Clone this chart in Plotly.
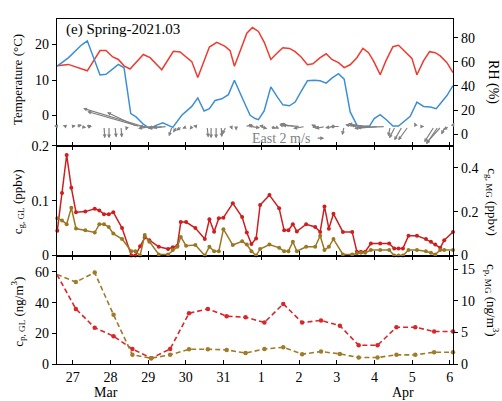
import plotly.graph_objects as go

# ---------------- data (time as day-of-March, Apr 1 = 32) ----------------
t_temp = [26.591, 26.883, 27.387, 27.724, 27.883, 28.061, 28.210, 28.361, 28.520, 28.698,
          28.873, 29.051, 29.361, 29.669, 29.847, 30.157, 30.316, 30.624, 30.821, 31.041,
          31.173, 31.288, 31.617, 31.765, 31.924, 32.076, 32.253, 32.428, 32.572, 32.747,
          32.898, 33.057, 33.224, 33.368, 33.561, 33.721, 33.872, 34.047, 34.198, 34.357,
          34.535, 34.694, 34.843, 34.975, 35.153, 35.304, 35.490, 35.639, 35.798, 35.994,
          36.127, 36.302, 36.461, 36.613, 36.745, 36.923, 37.082]
temperature = [14.0, 14.4, 12.6, 18.3, 18.3, 16.5, 15.8, 14.0, 13.1, 15.2,
               17.2, 16.3, 12.9, 18.1, 17.9, 15.2, 10.7, 19.3, 20.6, 19.5,
               18.3, 13.9, 23.2, 24.8, 23.7, 20.7, 15.8, 17.7, 19.1, 18.9,
               18.0, 16.5, 14.3, 14.6, 16.3, 17.4, 15.8, 14.9, 13.5, 14.3,
               16.3, 18.9, 17.7, 15.4, 11.5, 15.4, 19.4, 19.8, 18.1, 16.1,
               11.5, 15.4, 18.0, 17.7, 16.8, 14.9, 12.1]

t_rh = [26.591, 26.883, 27.239, 27.387, 27.724, 27.883, 28.210, 28.361, 28.539, 28.679,
        28.873, 29.032, 29.229, 29.388, 29.653, 29.892, 30.157, 30.316, 30.484, 30.624,
        30.775, 30.953, 31.128, 31.288, 31.526, 31.704, 31.837, 31.924, 32.076, 32.253,
        32.428, 32.572, 32.747, 32.898, 33.057, 33.224, 33.402, 33.561, 33.721, 33.872,
        34.047, 34.198, 34.357, 34.535, 34.710, 34.869, 34.994, 35.153, 35.331, 35.490,
        35.639, 35.771, 35.949, 36.127, 36.302, 36.480, 36.639, 36.745, 36.923, 37.082]
rh = [56.6, 63.4, 74.3, 77.6, 49.2, 49.8, 58.0, 55.2, 17.0, 14.3,
      8.2, 4.7, 7.4, 9.3, 5.5, 15.6, 23.0, 30.1, 19.2, 21.1,
      27.9, 29.3, 32.8, 44.8, 27.9, 15.6, 12.9, 12.0, 19.2, 39.3,
      30.7, 24.3, 23.5, 26.6, 35.6, 44.3, 44.8, 44.3, 42.4, 46.5,
      50.3, 45.7, 18.4, 7.4, 6.1, 6.6, 12.9, 16.1, 11.5, 6.6,
      6.6, 10.2, 14.8, 26.6, 23.0, 22.5, 21.1, 25.2, 32.0, 40.2]

wind_day = [26.610, 26.822, 26.955, 27.087, 27.220, 27.353, 27.459, 27.830, 27.963, 28.122,
            28.281, 28.441, 28.706, 28.786, 28.865, 28.971, 29.104, 29.263, 29.396, 29.502,
            29.635, 29.767, 29.900, 30.033, 30.165, 30.298, 30.431, 30.563, 30.669, 30.802,
            30.935, 31.067, 31.200, 31.333, 31.571, 31.704, 31.837, 31.969, 32.102, 32.235,
            32.367, 32.633, 32.765, 32.898, 33.031, 33.163, 33.429, 33.561, 33.694, 33.827,
            33.959, 34.092, 34.198, 34.437, 34.623, 34.782, 34.941, 35.100, 35.286, 35.419,
            35.551, 35.737, 35.896, 36.108, 36.215, 36.586, 36.692, 36.772, 36.878, 36.984,
            37.064]
wind_u = [-1.0, -0.8, 1.2, 1.5, 1.3, 1.5, -0.8, 0.2, 0.0, 0.3,
          0.2, -0.3, -7.5, -13.2, -15.0, -2.0, -3.5, -2.5, -2.5, -4.7,
          -0.8, -1.0, -1.5, -1.2, -0.6, -1.0, -0.5, 0.3, 0.0, 0.0,
          0.2, -1.0, 0.3, 0.0, 2.0, 2.5, -1.8, 1.8, -1.5, 1.5,
          1.0, -1.5, -2.5, -3.5, -4.5, -3.0, -1.0, -2.0, -2.5, 1.5,
          -2.5, -2.5, -0.5, -2.0, -3.0, -4.0, -5.0, -6.0, -7.0, -0.5,
          -1.5, -2.0, -2.5, -0.5, 1.0, -2.5, -3.0, -3.8, -1.0, -1.5,
          0.5]
wind_v = [0.2, 0.3, 0.2, 0.4, -0.3, 0.0, 0.4, -3.0, -3.0, -2.8,
          -2.8, -1.0, 3.6, 3.8, 4.6, 0.0, -0.5, -0.3, -0.3, -0.5,
          -2.5, -1.5, -1.0, -0.5, -0.8, 0.2, -0.5, -2.8, -3.0, -3.0,
          -2.7, -2.0, -0.8, -1.0, 0.4, -0.3, 0.3, -0.6, 0.2, -0.5,
          -0.6, 0.5, 0.8, 0.6, 0.3, -0.5, 0.5, -0.2, -0.5, 0.0,
          -0.3, 0.0, -2.2, 0.5, 0.8, 0.3, 0.2, -0.5, -0.3, -2.5,
          -3.0, -3.5, -3.5, 1.0, 0.0, -4.0, -4.5, -4.3, -2.0, -0.8,
          1.0]

t_gas = [26.591, 26.716, 26.840, 26.963, 27.087, 27.334, 27.584, 27.706, 27.830, 27.955,
         28.077, 28.308, 28.555, 28.661, 28.786, 28.910, 29.032, 29.282, 29.528, 29.653,
         29.775, 29.865, 30.006, 30.253, 30.502, 30.624, 30.749, 30.874, 30.996, 31.245,
         31.492, 31.616, 31.739, 31.863, 31.969, 32.216, 32.474, 32.606, 32.720, 32.837,
         32.943, 33.190, 33.429, 33.561, 33.675, 33.792, 33.914, 34.164, 34.410, 34.535,
         34.641, 34.755, 34.906, 35.153, 35.392, 35.525, 35.639, 35.756, 35.904, 36.127,
         36.366, 36.498, 36.613, 36.745, 36.851, 37.083]
cg_gl = [0.045, 0.114, 0.183, 0.1235, 0.079, 0.080, 0.085, 0.082, 0.075, 0.075,
         0.079, 0.050, 0.0, 0.0, 0.017, 0.033, 0.028, 0.016, 0.012, 0.015,
         0.018, 0.061, 0.061, 0.050, 0.030, 0.066, 0.0435, 0.068, 0.069, 0.095,
         0.070, 0.042, 0.021, 0.031, 0.092, 0.110, 0.086, 0.046, 0.046, 0.057,
         0.044, 0.057, 0.052, 0.043, 0.0895, 0.049, 0.076, 0.043, 0.043, 0.007,
         0.007, 0.007, 0.022, 0.022, 0.022, 0.013, 0.013, 0.013, 0.036, 0.036,
         0.030, 0.025, 0.020, 0.014, 0.028, 0.043]
cg_mg = [0.170, 0.160, 0.143, 0.218, 0.123, 0.115, 0.105, 0.143, 0.143, 0.130,
         0.100, 0.075, 0.020, 0.020, 0.0, 0.093, 0.063, 0.005, 0.005, 0.025,
         0.040, 0.085, 0.045, 0.048, 0.0, 0.040, 0.020, 0.020, 0.120, 0.048,
         0.065, 0.050, 0.020, 0.0, 0.030, 0.050, 0.035, 0.020, 0.020, 0.063,
         0.020, 0.040, 0.040, 0.090, 0.025, 0.040, 0.075, 0.005, 0.005, 0.010,
         0.013, 0.013, 0.025, 0.025, 0.025, 0.0, 0.0, 0.0, 0.025, 0.025,
         0.020, 0.013, 0.005, 0.025, 0.025, 0.025]

t_part = [26.583, 27.083, 27.583, 28.083, 28.583, 29.083, 29.583, 30.083, 30.583, 31.083,
          31.583, 32.083, 32.583, 33.083, 33.583, 34.083, 34.583, 35.083, 35.583, 36.083,
          36.583, 37.083]
cp_gl = [58.3, 35.9, 23.7, 18.1, 9.8, 3.8, 9.8, 33.1, 35.9, 31.2,
         30.5, 27.1, 39.2, 27.0, 28.4, 25.0, 12.2, 12.2, 24.0, 24.0,
         21.2, 21.2]
cp_mg = [14.2, 13.0, 14.5, 7.8, 1.46, 0.92, 1.46, 2.34, 2.34, 2.24,
         1.73, 2.38, 2.66, 1.56, 1.97, 1.60, 1.03, 1.03, 1.45, 1.45,
         1.87, 1.87]

tick_days = [27, 28, 29, 30, 31, 32, 33, 34, 35, 36, 37]
tick_labels = ["27", "28", "29", "30", "31", "1", "2", "3", "4", "5", "6"]
month_labels = ["Mar", "Apr"]
month_days = [27.87, 35.76]
panel_title = "(e) Spring-2021.03"

# ---------------- styling ----------------
FONT = "Liberation Serif, Times New Roman, serif"
RED_T = "#ee3a2f"
BLUE = "#3d8fd4"
RED_G = "#cc1f1f"
BROWN = "#9a7823"
RED_P = "#d9262a"
BROWN_P = "#a07c2a"
GRAY = "#808080"

X_RANGE = [26.5833, 37.0833]
W, H = 502, 401
ML, MR, MT, MB = 57, 49, 14, 37
PW, PH = W - ML - MR, H - MT - MB


def px2paper_x(px):
    return (px - ML) / PW


def px2paper_y(py):
    return (H - MB - py) / PH


D1 = [px2paper_y(142.5), 1.0]
D2 = [px2paper_y(254), px2paper_y(142.5)]
D3 = [0.0, px2paper_y(254)]

fig = go.Figure()

# Panel 1
fig.add_trace(go.Scatter(x=t_temp, y=temperature, mode="lines",
                         line=dict(color=RED_T, width=1.5), xaxis="x3", yaxis="y"))
fig.add_trace(go.Scatter(x=t_rh, y=rh, mode="lines",
                         line=dict(color=BLUE, width=1.5), xaxis="x3", yaxis="y2"))

# Panel 2
fig.add_trace(go.Scatter(x=t_gas, y=cg_mg, mode="lines+markers",
                         line=dict(color=BROWN, width=1.5), marker=dict(size=4, color=BROWN),
                         xaxis="x2", yaxis="y4", cliponaxis=False))
fig.add_trace(go.Scatter(x=t_gas, y=cg_gl, mode="lines+markers",
                         line=dict(color=RED_G, width=1.5), marker=dict(size=4, color=RED_G),
                         xaxis="x2", yaxis="y3", cliponaxis=False))

# Panel 3
fig.add_trace(go.Scatter(x=t_part, y=cp_mg, mode="lines+markers",
                         line=dict(color=BROWN_P, width=1.6, dash="5px,3px"),
                         marker=dict(size=4.5, color=BROWN_P),
                         xaxis="x", yaxis="y6", cliponaxis=False))
fig.add_trace(go.Scatter(x=t_part, y=cp_gl, mode="lines+markers",
                         line=dict(color=RED_P, width=1.6, dash="5px,3px"),
                         marker=dict(size=4.5, color=RED_P),
                         xaxis="x", yaxis="y5", cliponaxis=False))

# ---------------- wind arrows (quiver) ----------------
Y0_WIND = -3.1               # baseline (temperature units)
KX = 4.0 / (PW / (X_RANGE[1] - X_RANGE[0]))   # days per m/s  (4 px per m/s)
T_RANGE = [-8.5, 27.2]
KY = 4.0 / ((px2paper_y(14) - px2paper_y(142.5)) * PH / (T_RANGE[1] - T_RANGE[0]))

annotations = []
ARROW = dict(showarrow=True, arrowhead=2, arrowsize=0.65, arrowwidth=1.2, arrowcolor=GRAY)
for d, u, v in zip(wind_day, wind_u, wind_v):
    annotations.append(dict(
        x=d + u * KX, y=Y0_WIND + v * KY, ax=d, ay=Y0_WIND,
        xref="x3", yref="y", axref="x3", ayref="y", text="", **ARROW))

# reference arrow
ref_day, ref_y = 33.455, -6.4
annotations.append(dict(x=ref_day + 2 * KX, y=ref_y, ax=ref_day, ay=ref_y,
                        xref="x3", yref="y", axref="x3", ayref="y", text="", **ARROW))
annotations.append(dict(x=ref_day - 0.12, y=ref_y, xref="x3", yref="y",
                        text="East 2 m/s", showarrow=False, xanchor="right",
                        yanchor="middle", font=dict(family=FONT, size=14, color=GRAY)))

# panel title
annotations.append(dict(x=px2paper_x(64), y=px2paper_y(25), xref="paper", yref="paper",
                        text=panel_title, showarrow=False, xanchor="left", yanchor="middle",
                        font=dict(family=FONT, size=15, color="black")))


def ytitle(text, px, py, angle, size=13):
    annotations.append(dict(x=px2paper_x(px), y=px2paper_y(py), xref="paper", yref="paper",
                            text=text, showarrow=False, textangle=angle,
                            xanchor="center", yanchor="middle",
                            font=dict(family=FONT, size=size, color="black")))


ytitle("Temperature (°C)", 17, 76, -90)
ytitle("c<sub>g, GL</sub> (ppbv)", 18, 200, -90)
ytitle("c<sub>p, GL</sub> (ng/m<sup>3</sup>)", 18, 311, -90)
ytitle("RH (%)", 493, 78, 90, 14)
ytitle("c<sub>g, MG</sub> (ppbv)", 492, 200, 90)
ytitle("c<sub>p, MG</sub> (ng/m<sup>3</sup>)", 492, 300, 90)

for lab, d in zip(month_labels, month_days):
    annotations.append(dict(x=d, y=px2paper_y(393), xref="x", yref="paper", text=lab,
                            showarrow=False, xanchor="center", yanchor="middle",
                            font=dict(family=FONT, size=14, color="black")))

tickfont = dict(family=FONT, size=14, color="black")
xcommon = dict(range=X_RANGE, tickvals=tick_days, ticktext=tick_labels,
               ticks="inside", ticklen=4, tickwidth=1, tickcolor="black",
               showline=True, linecolor="black", linewidth=1.2,
               showgrid=False, zeroline=False)
ycommon = dict(ticks="outside", ticklen=4, tickwidth=1, tickcolor="black",
               showline=True, linecolor="black", linewidth=1.2,
               showgrid=False, zeroline=False, tickfont=tickfont)

fig.update_layout(
    width=W, height=H,
    margin=dict(l=ML, r=MR, t=MT, b=MB, pad=0),
    paper_bgcolor="white", plot_bgcolor="white",
    showlegend=False,
    font=dict(family=FONT, size=13, color="black"),
    xaxis=dict(domain=[0, 1], anchor="y5", tickfont=tickfont, mirror="ticks", **xcommon),
    xaxis2=dict(domain=[0, 1], anchor="y3", matches="x", showticklabels=False,
                mirror="ticks", **xcommon),
    xaxis3=dict(domain=[0, 1], anchor="y", matches="x", showticklabels=False,
                mirror=True, **xcommon),
    yaxis=dict(domain=D1, anchor="x3", range=T_RANGE, tickvals=[0, 10, 20], **ycommon),
    yaxis2=dict(overlaying="y", side="right", anchor="x3", range=[-9.7, 95.8],
                tickvals=[0, 20, 40, 60, 80], **ycommon),
    yaxis3=dict(domain=D2, anchor="x2", range=[0, 0.2], tickvals=[0, 0.1, 0.2], **ycommon),
    yaxis4=dict(overlaying="y3", side="right", anchor="x2", range=[0, 0.5],
                tickvals=[0, 0.2, 0.4], **ycommon),
    yaxis5=dict(domain=D3, anchor="x", range=[0, 70.7], tickvals=[0, 20, 40, 60], **ycommon),
    yaxis6=dict(overlaying="y5", side="right", anchor="x", range=[0, 17.2],
                tickvals=[0, 5, 10, 15], **ycommon),
    annotations=annotations,
)

fig.write_html("out.html",
               config={"displayModeBar": False},
               post_script="document.body.style.margin='0px';"
                           "document.body.style.overflow='hidden';")
